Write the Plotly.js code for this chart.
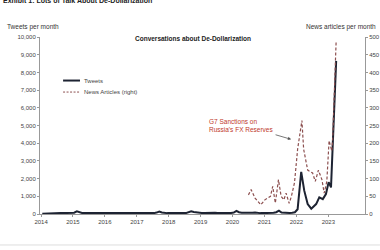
<!DOCTYPE html>
<html><head><meta charset="utf-8">
<script src="https://cdn.plot.ly/plotly-3.0.1.min.js"></script>
<style>html,body{margin:0;padding:0;background:#fff}#c{width:380px;height:250px}</style>
</head><body><div id="c"></div>
<script>
// Monthly tweets 2014-01 .. 2021-12
const tweetStartYear = 2014;
const tweetsMonthly = [
  20,30,40,50,60,60,70,60,50,50,60,60,
  70,150,90,60,50,50,40,40,40,50,40,40,
  40,30,30,30,30,40,30,30,30,30,30,30,
  30,30,30,30,40,40,50,80,140,90,60,50,
  50,60,50,60,70,60,50,80,150,110,80,70,
  60,50,60,50,60,70,60,50,60,70,60,60,
  80,180,100,70,60,60,60,70,90,60,50,50,
  50,60,60,70,100,190,80,60,50,60,70,100
];
const tweetsLateDates = ["2022-01-15","2022-02-25","2022-04-01","2022-05-10","2022-06-20","2022-08-15","2022-09-20","2022-10-30","2022-12-05","2023-01-05","2023-02-01","2023-04-01"];
const tweetsLateValues = [270,2380,1320,560,300,560,940,840,1130,1800,1500,8650];

const newsDates = ["2020-07-01","2020-08-01","2020-09-15","2020-11-20","2021-01-05","2021-02-15","2021-03-10","2021-04-05","2021-05-05","2021-06-10","2021-07-10","2021-08-10","2021-09-05","2021-10-10","2021-11-05","2021-12-10","2022-01-15","2022-03-05","2022-03-25","2022-05-10","2022-07-05","2022-08-05","2022-09-10","2022-10-20","2022-11-15","2022-12-15","2023-01-10","2023-02-10","2023-02-20","2023-04-01"];
const newsValues = [54,69,45,26,40,45,50,78,31,97,50,40,59,30,50,88,183,264,183,124,116,92,124,97,59,92,207,178,211,490];

const yearTicks = ["2014","2015","2016","2017","2018","2019","2020","2021","2022","2023"];
const seriesNames = ["Tweets", "News Articles (right)"];

const tweetDates = [];
for (let i = 0; i < tweetsMonthly.length; i++) {
  const y = tweetStartYear + Math.floor(i / 12), m = (i % 12) + 1;
  tweetDates.push(y + "-" + String(m).padStart(2, "0") + "-15");
}
const tx = tweetDates.concat(tweetsLateDates);
const ty = tweetsMonthly.concat(tweetsLateValues);

const F = "Liberation Sans, Arial, sans-serif";
const tweetLine = {color: "#1d2332", width: 2};
const newsLine = {color: "#8c4f4f", width: 1.2, dash: "3px,2px"};
const traces = [
  {x: tx, y: ty, type: "scatter", mode: "lines", name: seriesNames[0], line: tweetLine},
  {x: newsDates, y: newsValues, type: "scatter", mode: "lines", name: seriesNames[1], yaxis: "y2", line: newsLine}
];
const legY = [0.754, 0.689];
const layout = {
  width: 380, height: 250,
  margin: {l: 40, r: 15, t: 37, b: 36},
  paper_bgcolor: "#fff", plot_bgcolor: "#fff",
  font: {family: F, size: 6, color: "#444"},
  showlegend: false,
  xaxis: {type: "date", range: ["2013-12-20", "2024-02-25"],
          tickvals: yearTicks.map(y => y + "-01-01"), ticktext: yearTicks,
          showgrid: false, zeroline: false, showline: true, linecolor: "#999", linewidth: 1,
          ticks: "outside", ticklen: 2, tickcolor: "#999", tickfont: {size: 6, color: "#444"}},
  yaxis: {range: [0, 10000], dtick: 1000, tickformat: ",", showgrid: false, zeroline: false,
          showline: true, linecolor: "#999", linewidth: 1, ticks: "outside", ticklen: 2, tickcolor: "#999",
          tickfont: {size: 6, color: "#444"}},
  yaxis2: {range: [0, 500], dtick: 50, overlaying: "y", side: "right", showgrid: false, zeroline: false,
           showline: true, linecolor: "#999", linewidth: 1, ticks: "outside", ticklen: 2, tickcolor: "#999",
           tickfont: {size: 6, color: "#444"}},
  shapes: [
    {type: "line", xref: "paper", yref: "paper", x0: -0.123, x1: 1.046, y0: -0.175, y1: -0.175,
     line: {color: "#ddd", width: 1}},
    {type: "line", xref: "paper", yref: "paper", x0: 0.071, x1: 0.123, y0: legY[0], y1: legY[0], line: tweetLine},
    {type: "line", xref: "paper", yref: "paper", x0: 0.071, x1: 0.123, y0: legY[1], y1: legY[1],
     line: {color: newsLine.color, width: 1, dash: "2px,1.5px"}}
  ],
  annotations: [
    {text: "<b>Exhibit 1: Lots of Talk About De-Dollarization</b>", xref: "paper", yref: "paper",
     x: -0.12, y: 1.205, xanchor: "left", yanchor: "middle", showarrow: false, font: {size: 7, color: "#222"}},
    {text: "Tweets per month", xref: "paper", yref: "paper", x: -0.108, y: 1.056, xanchor: "left", yanchor: "middle",
     showarrow: false, font: {size: 6.5, color: "#333"}},
    {text: "News articles per month", xref: "paper", yref: "paper", x: 1.04, y: 1.056, xanchor: "right", yanchor: "middle",
     showarrow: false, font: {size: 6.5, color: "#333"}},
    {text: "<b>Conversations about De-Dollarization</b>", xref: "paper", yref: "paper", x: 0.47, y: 0.99,
     xanchor: "center", yanchor: "middle", showarrow: false, font: {size: 6.5, color: "#222"}},
    {text: seriesNames[0], xref: "paper", yref: "paper", x: 0.129, y: legY[0], xanchor: "left", yanchor: "middle",
     showarrow: false, font: {size: 6, color: "#444"}},
    {text: seriesNames[1], xref: "paper", yref: "paper", x: 0.129, y: legY[1], xanchor: "left", yanchor: "middle",
     showarrow: false, font: {size: 6, color: "#444"}},
    {text: "G7 Sanctions on<br>Russia's FX Reserves", xref: "paper", yref: "paper", x: 0.515, y: 0.5,
     xanchor: "left", yanchor: "middle", align: "left", showarrow: false, font: {size: 6.5, color: "#c0392b"}},
    {text: "", x: "2021-11-01", y: 211, xref: "x", yref: "y2", showarrow: true, ax: -17, ay: -5,
     arrowhead: 2, arrowsize: 0.8, arrowwidth: 0.8, arrowcolor: "#555"},
    {text: "Source: Twitter, Factiva, Goldman Sachs Global Investment Research", xref: "paper", yref: "paper",
     x: -0.123, y: -0.2, xanchor: "left", yanchor: "top", showarrow: false, font: {size: 6, color: "#ccc"}}
  ]
};
Plotly.newPlot("c", traces, layout, {staticPlot: true, displayModeBar: false});
</script></body></html>
